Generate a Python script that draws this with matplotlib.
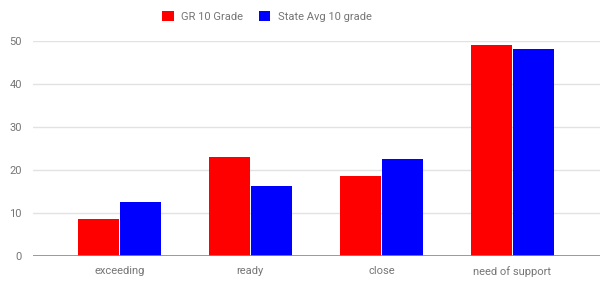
import matplotlib.pyplot as plt
import numpy as np

# --- Data ---
categories = ["exceeding", "ready", "close", "need of support"]
gr10_grade = [8.6, 23.0, 18.6, 49.1]
state_avg_10 = [12.6, 16.3, 22.6, 48.1]
series_labels = ["GR 10 Grade", "State Avg 10 grade"]
y_ticks = [0, 10, 20, 30, 40, 50]

plt.rcParams['font.family'] = ['Roboto', 'DejaVu Sans']


def plot_chart():
    fig = plt.figure(figsize=(6, 2.86), dpi=100)
    ax = fig.add_axes([33 / 600, 1 - 256 / 286, 567 / 600, 215 / 286])

    x = np.arange(len(categories))
    w = 0.31
    ax.bar(x - 0.16, gr10_grade, width=w, color="#ff0000", label=series_labels[0], zorder=3)
    ax.bar(x + 0.16, state_avg_10, width=w, color="#0000ff", label=series_labels[1], zorder=3)

    ax.set_xlim(-0.66, 3.67)
    ax.set_ylim(0, 50)
    ax.set_yticks(y_ticks)
    ax.set_xticks(x)
    ax.set_xticklabels(categories)

    # light horizontal gridlines, darker baseline
    ax.grid(axis="y", color="#e2e2e2", linewidth=1, zorder=0)
    ax.set_axisbelow(True)
    for s in ["top", "right", "left", "bottom"]:
        ax.spines[s].set_visible(False)
    ax.axhline(0, color="#8a8a8a", linewidth=1.2, zorder=4)

    ax.tick_params(axis="both", length=0, labelsize=8, labelcolor="#757575")
    ax.tick_params(axis="y", pad=8)
    ax.tick_params(axis="x", pad=7)

    fig.legend(loc="upper center", bbox_to_anchor=(0.445, 0.995), ncol=2, frameon=False,
               fontsize=8, labelcolor="#757575", handlelength=1.0, handleheight=1.0,
               columnspacing=1.4, handletextpad=0.7)

    plt.savefig("out.png", dpi=100)


if __name__ == "__main__":
    plot_chart()
